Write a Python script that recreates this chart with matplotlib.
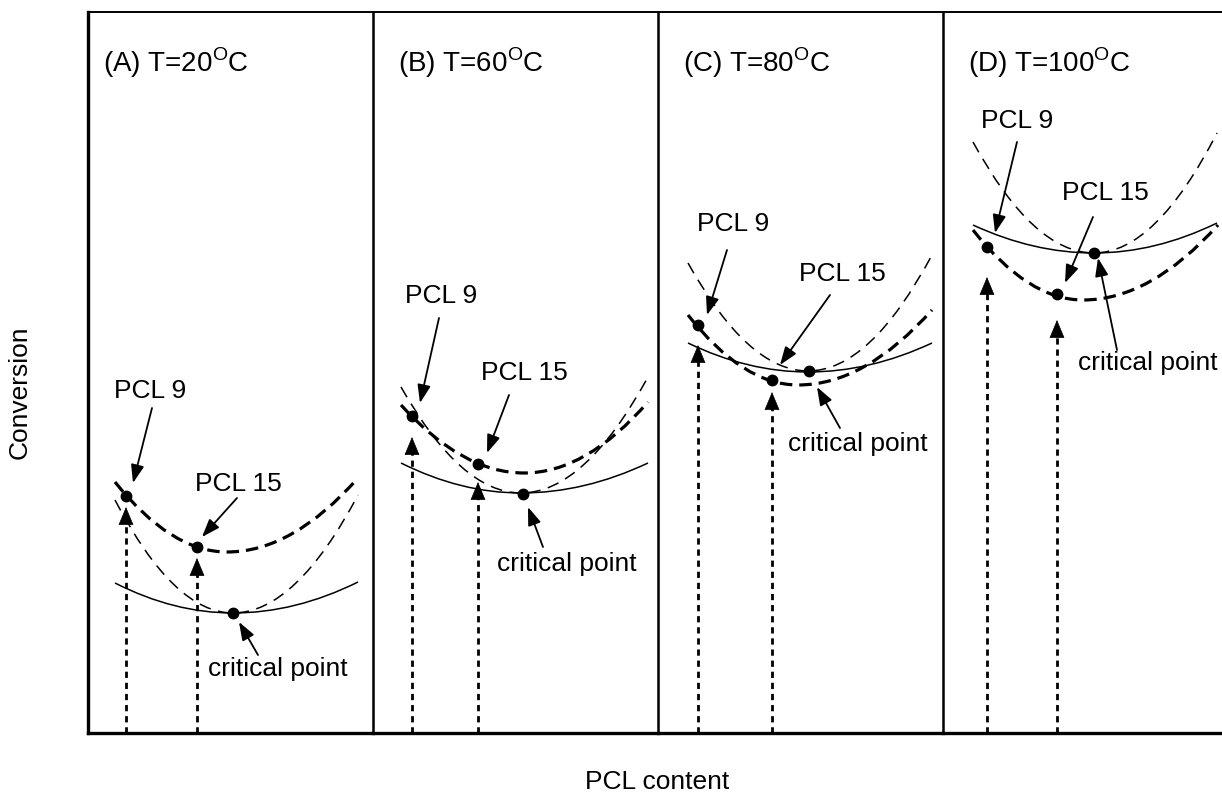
import matplotlib.pyplot as plt
from matplotlib.path import Path
from matplotlib.patches import PathPatch

plt.rcParams['font.family'] = ['Liberation Sans', 'DejaVu Sans']
plt.rcParams['mathtext.fontset'] = 'custom'
plt.rcParams['mathtext.rm'] = 'Liberation Sans'
plt.rcParams['lines.scale_dashes'] = False

# panel titles
titles = ['(A) T=20$^{\\mathrm{O}}$C', '(B) T=60$^{\\mathrm{O}}$C',
          '(C) T=80$^{\\mathrm{O}}$C', '(D) T=100$^{\\mathrm{O}}$C']
title_x = [15, 25, 25, 25]

# curves: (left end, minimum, right end) for each panel, in PCL content / conversion units
thick_x = [[27, 139, 270], [28, 151, 275], [30, 140, 274], [30, 140, 275]]
thick_y = [[251, 181, 255], [328, 260, 331], [418, 348, 423], [503, 433, 508]]
thin_x = [[27, 145, 270], [28, 148, 275], [30, 150, 274], [30, 151, 274]]
thin_y = [[233, 120, 238], [346, 240, 356], [470, 362, 478], [591, 480, 600]]
solid_x = [[27, 145, 270], [28, 148, 275], [30, 150, 274], [30, 151, 274]]
solid_y = [[150, 120, 151], [270, 240, 270], [390, 361, 390], [508, 480, 510]]

# marked points
pcl9_x = [38, 39, 40, 44]
pcl9_y = [237, 317, 408, 486]
pcl15_x = [109, 105, 114, 114]
pcl15_y = [186, 269, 353, 439]
crit_x = [145, 150, 151, 151]
crit_y = [120, 239, 362, 480]
# tops of the dotted arrows
tip9 = [226, 296, 388, 456]
tip15 = [175, 251, 341, 413]

# label positions (centre x, baseline y) and arrows (tail -> head)
lab9 = [(62, 335), (68, 430), (75, 502), (74, 605)]
lab15 = [(150, 242), (151, 353), (184, 452), (162, 533)]
labc = [(190, 57), (194, 162), (200, 282), (205, 363)]
arr9_tail = [(64, 325), (66, 415), (69, 483), (74, 591)]
arr9_head = [(45, 250), (47, 330), (49, 418), (52, 500)]
arr15_tail = [(149, 235), (136, 338), (172, 438), (150, 516)]
arr15_head = [(114, 196), (114, 280), (122, 368), (122, 450)]
arrc_tail = [(170, 78), (170, 186), (182, 305), (174, 383)]
arrc_head = [(151, 111), (155, 226), (159, 346), (155, 475)]


def parabola(ax, xs, ys, **kw):
    # two quadratic Bezier halves meeting with a flat tangent at the minimum
    (x0, x1, x2), (y0, y1, y2) = xs, ys
    verts = [(x0, y0), ((x0 + x1) / 2, y1), (x1, y1),
             ((x1 + x2) / 2, y1), (x2, y2)]
    codes = [Path.MOVETO, Path.CURVE3, Path.CURVE3, Path.CURVE3, Path.CURVE3]
    ax.add_patch(PathPatch(Path(verts, codes), fill=False, capstyle='butt', **kw))


W, H = 1222, 793
fig = plt.figure(figsize=(W / 100, H / 100), dpi=100)
lefts = [88, 373, 658, 943]
pw, top, bot = 285, 12, 733

arrow_kw = dict(arrowstyle='-|>,head_length=0.55,head_width=0.2', color='k',
                lw=1.3, mutation_scale=20, shrinkA=0, shrinkB=0)

for i, l in enumerate(lefts):
    ax = fig.add_axes([l / W, (H - bot) / H, pw / W, (bot - top) / H])
    ax.set_xlim(0, pw)
    ax.set_ylim(0, bot - top)
    ax.set_xticks([])
    ax.set_yticks([])
    ax.spines['right'].set_visible(False)
    ax.spines['top'].set_linewidth(1.4)
    ax.spines['bottom'].set_linewidth(2.4)
    ax.spines['left'].set_linewidth(2.4 if i == 0 else 1.8)

    parabola(ax, thick_x[i], thick_y[i], lw=2.3, ls=(0, (9, 5)), color='k')
    parabola(ax, thin_x[i], thin_y[i], lw=1.1, ls=(0, (8.5, 5.5)), color='k')
    parabola(ax, solid_x[i], solid_y[i], lw=1.1, color='k')

    ax.plot([pcl9_x[i], pcl15_x[i], crit_x[i]], [pcl9_y[i], pcl15_y[i], crit_y[i]],
            'o', color='k', ms=7.5, ls='none')

    for xv, tp in [(pcl9_x[i], tip9[i]), (pcl15_x[i], tip15[i])]:
        ax.plot([xv, xv], [0, tp - 10], color='k', lw=2.0, ls=(0, (4.5, 3.5)))
        ax.annotate('', xy=(xv, tp), xytext=(xv, tp - 12),
                    arrowprops=dict(arrowstyle='-|>,head_length=0.6,head_width=0.25',
                                    color='k', lw=0.5, mutation_scale=20,
                                    shrinkA=0, shrinkB=0))

    ax.text(title_x[i], 661, titles[i], fontsize=20, va='baseline')
    ax.text(lab9[i][0], lab9[i][1], 'PCL 9', fontsize=19, ha='center', va='baseline')
    ax.text(lab15[i][0], lab15[i][1], 'PCL 15', fontsize=19, ha='center', va='baseline')
    ax.text(labc[i][0], labc[i][1], 'critical point', fontsize=19, ha='center', va='baseline')
    ax.annotate('', xy=arr9_head[i], xytext=arr9_tail[i], arrowprops=arrow_kw)
    ax.annotate('', xy=arr15_head[i], xytext=arr15_tail[i], arrowprops=arrow_kw)
    ax.annotate('', xy=arrc_head[i], xytext=arrc_tail[i], arrowprops=arrow_kw)

fig.text(20 / W, 1 - 392 / H, 'Conversion', rotation=90, fontsize=19,
         ha='center', va='center')
fig.text(657 / W, 1 - 789 / H, 'PCL content', fontsize=19, ha='center', va='baseline')

fig.savefig('out.png', dpi=100)
